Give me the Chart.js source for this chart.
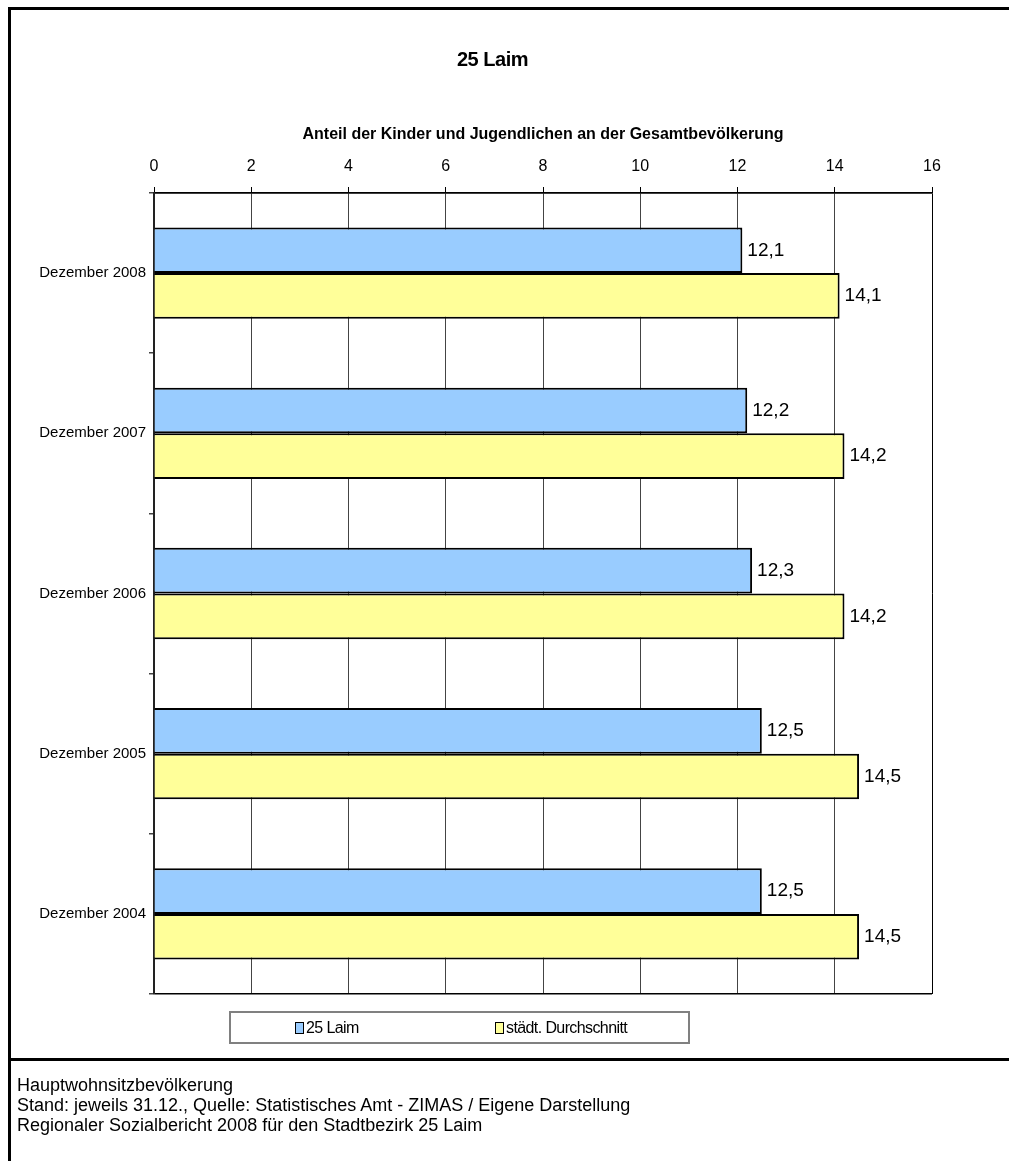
<!DOCTYPE html>
<html>
<head>
<meta charset="utf-8">
<script src="https://cdn.jsdelivr.net/npm/chart.js@4"></script>
<style>
  html, body { margin: 0; padding: 0; background: #fff; overflow: hidden; }
  body { width: 1009px; height: 1161px; position: relative; font-family: "Liberation Sans", Arial, sans-serif; }
  #frame { position: absolute; left: 8px; top: 7px; width: 1100px; height: 1200px; border: 3px solid #000; pointer-events: none; }
  #sep { position: absolute; left: 8px; top: 1058px; width: 1100px; height: 3px; background: #000; }
  #myChart { position: absolute; left: 0; top: 0; }
  #titel { position: absolute; left: 0; top: 47px; width: 985px; text-align: center; font-size: 20px; font-weight: bold; line-height: 24px; letter-spacing: -0.5px; color: #000; }
  #legend { position: absolute; left: 229px; top: 1011px; width: 461px; height: 33px; box-sizing: border-box; border: 2px solid #808080; }
  .lg { position: absolute; top: 6px; font-size: 16px; letter-spacing: -0.6px; line-height: 18px; color: #000; }
  .sw { display: inline-block; width: 7px; height: 10px; border: 1px solid #000; vertical-align: -1px; margin-right: 2px; }
  #footer { position: absolute; left: 17px; top: 1075px; font-size: 18px; line-height: 20px; color: #000; }
</style>
</head>
<body>
<canvas id="myChart" width="985" height="1058"></canvas>
<div id="titel">25 Laim</div>
<div id="frame"></div>
<div id="sep"></div>
<div id="legend">
  <div class="lg" style="left:64px"><span class="sw" style="background:#99ccff"></span>25 Laim</div>
  <div class="lg" style="left:264px"><span class="sw" style="background:#ffff99"></span>städt. Durchschnitt</div>
</div>
<div id="footer">
  Hauptwohnsitzbevölkerung<br>
  Stand: jeweils 31.12., Quelle: Statistisches Amt - ZIMAS / Eigene Darstellung<br>
  Regionaler Sozialbericht 2008 für den Stadtbezirk 25 Laim
</div>
<script>
// Daten aus dem Bericht
var kategorien = ["Dezember 2008", "Dezember 2007", "Dezember 2006", "Dezember 2005", "Dezember 2004"];
var werte_laim = [12.1, 12.2, 12.3, 12.5, 12.5];
var werte_stadt = [14.1, 14.2, 14.2, 14.5, 14.5];
var serien_namen = ["25 Laim", "städt. Durchschnitt"];
var achse_min = 0;
var achse_max = 16;
var achse_schritt = 2;

var schrift = "'Liberation Sans', Arial, sans-serif";
var ctx1 = document.getElementById("myChart");

// Werte neben die Balken schreiben (mit Komma)
const wertLabels = {
  id: 'wertLabels',
  afterDatasetsDraw(chart) {
    const c = chart.ctx;
    c.save();
    c.font = "19px " + schrift;
    c.fillStyle = '#000';
    c.textBaseline = 'middle';
    c.textAlign = 'left';
    chart.data.datasets.forEach((ds, i) => {
      chart.getDatasetMeta(i).data.forEach((bar, j) => {
        const txt = ds.data[j].toFixed(1).replace('.', ',');
        c.fillText(txt, bar.x + 5, bar.y);
      });
    });
    c.restore();
  }
};

const datachart = {
  labels: kategorien,
  datasets: [{
    label: serien_namen[0],
    data: werte_laim,
    backgroundColor: '#99ccff',
    borderColor: '#000',
    borderWidth: 2,
    categoryPercentage: 0.57,
    barPercentage: 1.0
  }, {
    label: serien_namen[1],
    data: werte_stadt,
    backgroundColor: '#ffff99',
    borderColor: '#000',
    borderWidth: 2,
    categoryPercentage: 0.57,
    barPercentage: 1.0
  }]
};

const config = {
  type: 'bar',
  data: datachart,
  plugins: [wertLabels],
  options: {
    indexAxis: 'y',
    responsive: false,
    animation: false,
    layout: { padding: { left: 0, right: 53, top: 69, bottom: 64 } },
    plugins: {
      legend: { display: false },
      tooltip: { enabled: false },
      title: { display: false }
    },
    scales: {
      x: {
        position: 'top',
        min: achse_min,
        max: achse_max,
        afterFit: function (scale) { scale.height = 124; },
        ticks: {
          stepSize: achse_schritt,
          color: '#000',
          padding: 11,
          font: { family: schrift, size: 16 }
        },
        grid: {
          color: (c) => (c.index === 8 ? '#000' : '#444'),
          tickColor: '#000',
          tickLength: 6,
          lineWidth: 1
        },
        border: { display: true, color: '#000', width: 1.5 },
        title: {
          display: true,
          text: 'Anteil der Kinder und Jugendlichen an der Gesamtbevölkerung',
          color: '#000',
          font: { family: schrift, size: 16, weight: 'bold' },
          padding: { top: 56, bottom: 0 }
        }
      },
      y: {
        afterFit: function (scale) { scale.width = 154; },
        ticks: {
          color: '#000',
          padding: 3,
          font: { family: schrift, size: 15 }
        },
        grid: {
          offset: true,
          color: (c) => ((c.index === 0 || c.index === undefined) ? '#000' : 'rgba(0,0,0,0)'),
          tickColor: '#444',
          tickLength: 5,
          lineWidth: 1.5
        },
        border: { display: true, color: '#222', width: 2 }
      }
    }
  }
};
const myChart = new Chart(ctx1, config);
</script>
</body>
</html>
